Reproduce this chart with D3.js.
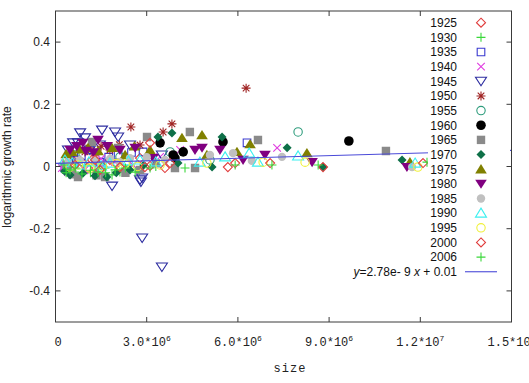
<!DOCTYPE html>
<html><head><meta charset="utf-8">
<script src="https://cdn.jsdelivr.net/npm/d3@7"></script>
<style>body{margin:0;background:#fff}svg{display:block}</style>
</head><body>
<svg id="c" width="529" height="383"></svg>
<script>
// ---- data (size, logarithmic growth rate) ----
const years = ["1925","1930","1935","1940","1945","1950","1955","1960","1965","1970","1975","1980","1985","1990","1995","2000","2006"];
const d1925 = [[0.48e6,0.005],[1.07e6,-0.005],[1.79e6,0.021],[2.29e6,-0.011],[3.11e6,0.002],[1.2e6,0.021],[0.31e6,-0.011],[2.78e6,0.027],[0.9e6,0.012],[1.55e6,0.0],[2.0e6,0.008],[0.6e6,0.018],[3.6e6,-0.005]];
const d1930 = [[0.35e6,-0.005],[0.64e6,-0.018],[0.97e6,0.002],[1.3e6,-0.011],[1.63e6,-0.005],[2.12e6,-0.018],[2.45e6,0.002],[0.74e6,0.014],[1.86e6,-0.027],[0.5e6,0.0],[1.15e6,-0.02],[1.45e6,0.008],[2.3e6,-0.008],[2.75e6,-0.015],[0.25e6,0.01],[3.3e6,0.0]];
const d1935 = [[2.88e6,0.047],[6.3e6,0.076],[0.48e6,0.027],[1.13e6,0.053],[2.06e6,0.037],[0.31e6,-0.005],[1.46e6,0.014],[0.85e6,0.035],[1.75e6,0.03],[2.5e6,0.045],[0.6e6,0.01]];
const d1940 = [[7.29e6,0.06],[0.21e6,-0.005],[0.41e6,-0.018],[3.44e6,0.031],[0.64e6,0.021],[1.96e6,0.014],[4.1e6,0.053],[0.3e6,0.01],[0.95e6,-0.012],[1.5e6,0.025],[2.55e6,0.005]];
const d1945 = [[0.81e6,0.108],[0.58e6,0.076],[0.74e6,0.076],[0.41e6,0.053],[0.97e6,0.092],[1.53e6,0.117],[1.96e6,0.111],[2.06e6,0.095],[2.45e6,0.069],[1.46e6,0.069],[1.13e6,0.053],[1.86e6,-0.063],[2.78e6,-0.043],[2.85e6,-0.037],[2.81e6,-0.05],[2.85e6,-0.23],[3.5e6,-0.323],[3.5e6,0.037],[0.64e6,0.02]];
const d1950 = [[2.48e6,0.127],[6.27e6,0.252],[3.83e6,0.137],[3.54e6,0.111],[0.97e6,0.047],[1.3e6,0.037],[1.79e6,0.053],[0.48e6,0.037],[2.78e6,0.069],[1.5e6,0.065],[2.1e6,0.07],[1.1e6,0.06]];
const d1955 = [[7.98e6,0.111],[3.77e6,0.047],[2.12e6,0.031],[0.64e6,0.037],[5.08e6,0.021]];
const d1960 = [[3.44e6,0.076],[3.87e6,0.037],[4.2e6,0.047],[3.93e6,0.027],[5.51e6,0.079],[9.65e6,0.082]];
const d1965 = [[3.01e6,0.095],[4.42e6,0.111],[3.93e6,-0.005],[6.66e6,0.085],[10.87e6,0.05],[0.74e6,-0.034],[1.63e6,-0.034],[1.2e6,0.079],[2.06e6,0.06],[0.35e6,-0.011],[2.78e6,-0.011],[4.59e6,-0.005],[0.55e6,-0.025],[1.35e6,-0.028],[2.3e6,-0.02],[3.3e6,0.01]];
const d1970 = [[3.37e6,0.095],[3.83e6,0.108],[5.48e6,0.095],[7.62e6,0.06],[5.15e6,-0.002],[8.8e6,-0.002],[11.4e6,0.021],[1.69e6,-0.034],[4.03e6,0.011],[0.48e6,-0.027],[2.45e6,-0.011],[0.9e6,-0.022],[1.3e6,-0.03],[2.0e6,-0.02],[0.3e6,-0.015],[2.9e6,0.005]];
const d1975 = [[4.16e6,0.092],[4.82e6,0.101],[1.07e6,0.06],[6.4e6,0.072],[5.97e6,0.047],[8.27e6,0.043],[4.98e6,0.037],[11.66e6,0.014],[1.86e6,0.06],[2.29e6,0.037],[0.54e6,0.047],[3.11e6,0.053],[0.8e6,0.055],[1.4e6,0.05],[2.6e6,0.065],[0.35e6,0.04]];
const d1980 = [[5.41e6,0.053],[6.17e6,0.021],[6.89e6,0.037],[8.44e6,0.014],[4.82e6,0.06],[4.59e6,0.053],[3.21e6,0.027],[1.4e6,0.085],[0.9e6,0.076],[11.56e6,-0.002],[2.12e6,0.053],[0.48e6,0.053],[2.62e6,0.06],[1.0e6,0.05],[1.7e6,0.065],[0.7e6,0.065],[1.25e6,0.045]];
const d1985 = [[5.08e6,0.037],[5.84e6,0.043],[6.46e6,0.018],[7.45e6,0.031],[11.73e6,-0.002],[1.3e6,0.021],[2.45e6,0.027],[0.41e6,0.014],[3.6e6,0.021],[0.8e6,0.02],[1.8e6,0.025],[2.1e6,0.015],[3.0e6,0.03]];
const d1990 = [[6.37e6,0.043],[7.98e6,0.034],[5.58e6,0.031],[6.66e6,0.014],[4.75e6,0.014],[11.83e6,0.011],[0.81e6,0.005],[1.79e6,0.011],[2.78e6,0.021],[0.31e6,0.021],[1.1e6,0.015],[1.5e6,0.002],[2.4e6,0.018],[0.55e6,0.012],[3.3e6,0.015]];
const d1995 = [[4.98e6,0.011],[6.83e6,0.014],[8.21e6,0.014],[11.92e6,-0.002],[1.13e6,-0.005],[2.29e6,0.008],[0.48e6,-0.002],[3.44e6,0.005],[0.75e6,0.005],[1.55e6,0.0],[2.0e6,0.01],[2.7e6,0.0]];
const d2000 = [[5.67e6,-0.002],[5.91e6,0.011],[7.06e6,0.011],[8.8e6,-0.002],[12.09e6,0.011],[1.3e6,0.021],[2.94e6,-0.002],[3.11e6,0.076],[1.46e6,-0.011],[0.64e6,0.005],[2.12e6,-0.002],[3.77e6,0.011]];
const d2006 = [[5.91e6,0.005],[8.64e6,0.005],[12.22e6,0.014],[7.12e6,0.005],[0.48e6,-0.011],[0.87e6,-0.024],[1.4e6,-0.018],[1.96e6,-0.011],[2.62e6,-0.018],[3.11e6,-0.005],[4.26e6,-0.005],[0.28e6,0.005],[0.65e6,-0.005],[1.15e6,-0.012],[1.65e6,-0.02],[2.3e6,-0.005],[0.35e6,-0.02]];
const seriesData = [d1925,d1930,d1935,d1940,d1945,d1950,d1955,d1960,d1965,d1970,d1975,d1980,d1985,d1990,d1995,d2000,d2006];
const fitSlope = 2.78e-9, fitIntercept = 0.01;
const xTicks = [0, 3e6, 6e6, 9e6, 1.2e7, 1.5e7];
const xTickMant = ["0","3.0","6.0","9.0","1.2","1.5"];
const xTickExp = ["","6","6","6","7","7"];
const yTicks = [-0.4,-0.2,0,0.2,0.4];
const yTickLabels = ["-0.4","-0.2","0","0.2","0.4"];

// ---- styles ----
const colors = ["#e03c3c","#3ad83a","#3a3ad0","#e03ce0","#2c2ca0","#a02424","#2e9c7c","#000000","#8a8a8a","#0e7048","#808000","#800080","#c0c0c0","#3cf0f0","#f0f03c","#e03c3c","#3ad83a"];
const shapes = ["diamondO","plus","squareO","cross","downO","star","circleO","circleF","squareF","diamondF","upF","downF","circleF2","upO","circleO","diamondO","plus"];

function shapePath(s){
  switch(s){
    case "diamondO": case "diamondF": return "M0,-4.5L4.5,0L0,4.5L-4.5,0Z";
    case "plus": return "M-4.5,0H4.5M0,-4.5V4.5";
    case "squareO": return "M-3.8,-3.8H3.8V3.8H-3.8Z";
    case "squareF": return "M-4.2,-4.2H4.2V4.2H-4.2Z";
    case "cross": return "M-3.8,-3.8L3.8,3.8M-3.8,3.8L3.8,-3.8";
    case "star": return "M-4.5,0H4.5M0,-4.5V4.5M-3.3,-3.3L3.3,3.3M-3.3,3.3L3.3,-3.3";
    case "downO": return "M-5.5,-4L5.5,-4L0,4.5Z";
    case "downF": return "M-5.8,-4.2L5.8,-4.2L0,5Z";
    case "upO": return "M0,-5L5.5,4L-5.5,4Z";
    case "upF": return "M0,-5.2L5.8,4.2L-5.8,4.2Z";
  }
  return null;
}
function drawSym(g, s, col, x, y){
  const filled = /F/.test(s);
  if (s.startsWith("circle")){
    const r = s==="circleF"?4.8:4.2;
    g.append("circle").attr("cx",x).attr("cy",y).attr("r",r)
      .attr("fill", filled?col:"none").attr("stroke", filled?"none":col).attr("stroke-width",1.1);
  } else {
    g.append("path").attr("d",shapePath(s)).attr("transform",`translate(${x},${y})`)
      .attr("fill", filled?col:"none").attr("stroke", filled?"none":col).attr("stroke-width",1.1);
  }
}

const svg = d3.select("#c");
const L=55.5, R=511.5, T=11, B=322;
const x = d3.scaleLinear().domain([0,1.5e7]).range([L,R]);
const y = d3.scaleLinear().domain([-0.5,0.5]).range([B,T]);

svg.append("clipPath").attr("id","clip").append("rect").attr("x",L).attr("y",T).attr("width",R-L).attr("height",B-T);
const plot = svg.append("g").attr("clip-path","url(#clip)");

seriesData.forEach((data,i)=>{
  const g = plot.append("g");
  data.forEach(d=>drawSym(g, shapes[i], colors[i], x(d[0]), y(d[1])));
});

// fit line
plot.append("line").attr("x1",x(0)).attr("y1",y(fitIntercept))
  .attr("x2",x(1.5e7)).attr("y2",y(fitSlope*1.5e7+fitIntercept))
  .attr("stroke","#4a4ad8").attr("stroke-width",1.1);

// legend (opaque)
const lgTop = 22.7, lgStep = 14.65;
svg.append("rect").attr("x",428).attr("y",13).attr("width",82).attr("height",lgTop+17*lgStep+5-13).attr("fill","#fff");
const lg = svg.append("g");
years.forEach((yr,i)=>{
  const yy = lgTop + i*lgStep;
  lg.append("text").attr("x",457).attr("y",yy).attr("dy","0.36em").attr("text-anchor","end")
    .attr("font-family","Liberation Sans, Arial, sans-serif").attr("font-size",12).attr("fill","#111").text(yr);
  drawSym(lg, shapes[i], colors[i], 481, yy);
});
{
  const yy = lgTop + 17*lgStep;
  const t = lg.append("text").attr("x",457).attr("y",yy).attr("dy","0.36em").attr("text-anchor","end")
    .attr("font-family","Liberation Sans, Arial, sans-serif").attr("font-size",12).attr("fill","#111");
  t.append("tspan").attr("font-style","italic").text("y");
  t.append("tspan").text("=2.78e- 9 ");
  t.append("tspan").attr("font-style","italic").text("x");
  t.append("tspan").text(" + 0.01");
  lg.append("line").attr("x1",465).attr("x2",497).attr("y1",yy).attr("y2",yy).attr("stroke","#4a4ad8").attr("stroke-width",1.1);
}

// frame + ticks
const axisCol = "#3a3a3a";
svg.append("rect").attr("x",L).attr("y",T).attr("width",R-L).attr("height",B-T).attr("fill","none").attr("stroke",axisCol).attr("stroke-width",1);
const tk = svg.append("g").attr("stroke",axisCol).attr("stroke-width",1);
xTicks.forEach(v=>{
  tk.append("line").attr("x1",x(v)).attr("x2",x(v)).attr("y1",B).attr("y2",B-5);
  tk.append("line").attr("x1",x(v)).attr("x2",x(v)).attr("y1",T).attr("y2",T+5);
});
yTicks.forEach(v=>{
  tk.append("line").attr("x1",L).attr("x2",L+5).attr("y1",y(v)).attr("y2",y(v));
  tk.append("line").attr("x1",R).attr("x2",R-5).attr("y1",y(v)).attr("y2",y(v));
});

// y tick labels
yTicks.forEach((v,i)=>{
  svg.append("text").attr("x",50).attr("y",y(v)).attr("dy","0.36em").attr("text-anchor","end")
    .attr("font-family","Liberation Sans, Arial, sans-serif").attr("font-size",12).attr("fill","#222").text(yTickLabels[i]);
});
// x tick labels (last one runs off the right edge, as in the reference)
xTicks.forEach((v,i)=>{
  const t = svg.append("text").attr("x",x(v)+(i===0?2.5:0)).attr("y",346).attr("text-anchor","middle")
    .attr("font-family","Liberation Mono, DejaVu Sans Mono, monospace").attr("font-size",12).attr("fill","#222");
  if (xTickExp[i]===""){ t.text(xTickMant[i]); }
  else {
    t.append("tspan").text(xTickMant[i]+"*10");
    t.append("tspan").attr("font-size",8).attr("dy",-5).text(xTickExp[i]);
  }
});
// axis titles
svg.append("text").attr("x",290).attr("y",372).attr("text-anchor","middle")
  .attr("font-family","Liberation Mono, DejaVu Sans Mono, monospace").attr("font-size",12).attr("letter-spacing",1).attr("fill","#222").text("size");
svg.append("text").attr("transform","translate(11,167) rotate(-90)").attr("text-anchor","middle")
  .attr("font-family","Liberation Sans, Arial, sans-serif").attr("font-size",12).attr("fill","#222").text("logarithmic growth rate");
</script>
</body></html>
